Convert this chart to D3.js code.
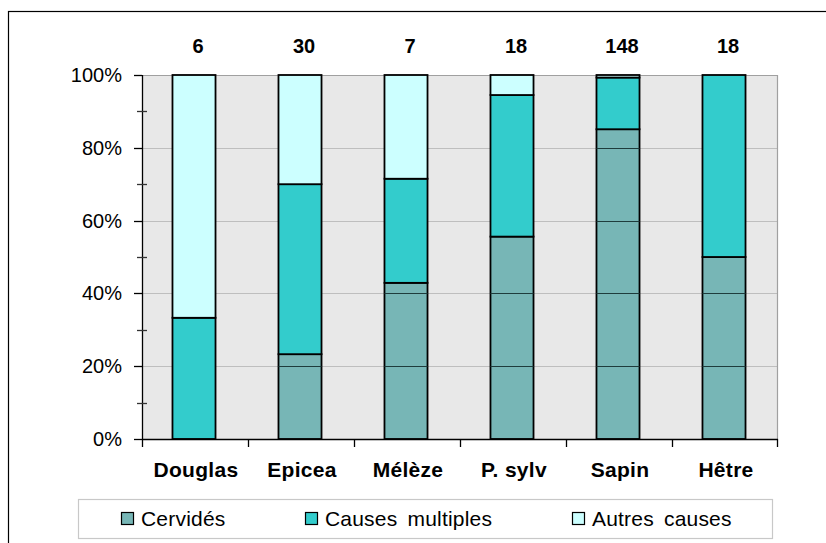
<!DOCTYPE html>
<html>
<head>
<meta charset="utf-8">
<script src="https://cdn.jsdelivr.net/npm/d3@7"></script>
<style>
  html, body { margin: 0; padding: 0; background: #fff; }
  svg { display: block; font-family: "Liberation Sans", Arial, sans-serif; }
</style>
</head>
<body>
<svg id="chart" width="826" height="543"></svg>
<script>
// Essences and number of damaged trees per essence
const essences = ["Douglas", "Epicea", "Mélèze", "P. sylv", "Sapin", "Hêtre"];
const effectifs = [6, 30, 7, 18, 148, 18];

// Share (%) of each cause per essence
const cervides        = [0, 23.3, 42.9, 55.6, 85.1, 50];
const causesMultiples = [33.3, 46.7, 28.6, 38.9, 14.2, 50];
const autresCauses    = [66.7, 30.0, 28.5, 5.5, 0.7, 0];

const causes = ["Cervidés", "Causes multiples", "Autres causes"];
const couleurs = ["#77B6B6", "#33CCCC", "#CCFFFF"];
const yTicks = [0, 20, 40, 60, 80, 100];
const yMinor = [10, 30, 50, 70, 90];

const rows = essences.map((e, i) => ({
  essence: e,
  "Cervidés": cervides[i],
  "Causes multiples": causesMultiples[i],
  "Autres causes": autresCauses[i]
}));

const svg = d3.select("#chart");
const m = { left: 142, right: 778, top: 75, bottom: 439 };

const x = d3.scaleBand().domain(essences).range([m.left, m.right]).paddingInner(0.594).paddingOuter(0.297);
const xBand = d3.scaleBand().domain(essences).range([m.left, m.right]);
const y = d3.scaleLinear().domain([0, 100]).range([m.bottom, m.top]);

// Outer frame
svg.append("rect").attr("x", 8.5).attr("y", 11.5).attr("width", 840).attr("height", 560)
  .attr("fill", "none").attr("stroke", "#000").attr("stroke-width", 1.2);

// Plot area background
svg.append("rect").attr("x", m.left).attr("y", m.top)
  .attr("width", m.right - m.left).attr("height", m.bottom - m.top)
  .attr("fill", "#E8E8E8");

// Horizontal gridlines
svg.append("g").selectAll("line").data(yTicks.filter(d => d > 0 && d < 100)).join("line")
  .attr("x1", m.left).attr("x2", m.right)
  .attr("y1", d => Math.round(y(d)) + 0.5).attr("y2", d => Math.round(y(d)) + 0.5)
  .attr("stroke", "#BEBEBE").attr("stroke-width", 1);

// Top and right border of plot area
svg.append("path")
  .attr("d", `M${m.left},${m.top + 0.5}H${m.right - 0.5}V${m.bottom}`)
  .attr("fill", "none").attr("stroke", "#A0A0A0").attr("stroke-width", 1.2);

// Stacked bars
const series = d3.stack().keys(causes)(rows);
const shift = -1;
const g = svg.append("g");
series.forEach((s, si) => {
  g.append("g").selectAll("rect").data(s.filter(d => d[1] - d[0] > 0)).join("rect")
    .attr("x", d => x(d.data.essence) + shift)
    .attr("width", x.bandwidth())
    .attr("y", d => y(d[1]))
    .attr("height", d => y(d[0]) - y(d[1]))
    .attr("fill", couleurs[si])
    .attr("stroke", "#000").attr("stroke-width", 1.8);
  // gridlines showing through the Cervidés segments
  if (si === 0) {
    s.filter(d => d[1] - d[0] > 0).forEach(d => {
      yTicks.filter(t => t > d[0] && t < d[1] && t > 0).forEach(t => {
        g.append("line")
          .attr("x1", x(d.data.essence) + shift).attr("x2", x(d.data.essence) + shift + x.bandwidth())
          .attr("y1", Math.round(y(t)) + 0.5).attr("y2", Math.round(y(t)) + 0.5)
          .attr("stroke", "#1E3C3C").attr("stroke-width", 1);
      });
    });
  }
});

// Y axis line and ticks
const ax = svg.append("g").attr("stroke", "#000");
ax.append("line").attr("x1", m.left + 0.5).attr("x2", m.left + 0.5)
  .attr("y1", m.top).attr("y2", m.bottom + 8).attr("stroke-width", 1.3);
ax.selectAll(".maj").data(yTicks).join("line").attr("class", "maj")
  .attr("x1", m.left - 8).attr("x2", m.left)
  .attr("y1", d => Math.round(y(d)) + 0.5).attr("y2", d => Math.round(y(d)) + 0.5)
  .attr("stroke-width", 1.3);
ax.selectAll(".min").data(yMinor).join("line").attr("class", "min")
  .attr("x1", m.left - 5).attr("x2", m.left + 5)
  .attr("y1", d => Math.round(y(d)) + 0.5).attr("y2", d => Math.round(y(d)) + 0.5)
  .attr("stroke", "#333").attr("stroke-width", 1.3);

// X axis line and ticks between categories
ax.append("line").attr("x1", m.left).attr("x2", m.right)
  .attr("y1", m.bottom + 0.5).attr("y2", m.bottom + 0.5).attr("stroke-width", 1.3);
ax.selectAll(".xt").data(essences.slice(1).concat(["__end"])).join("line").attr("class", "xt")
  .attr("x1", d => d === "__end" ? m.right - 0.5 : xBand(d) + 0.5)
  .attr("x2", d => d === "__end" ? m.right - 0.5 : xBand(d) + 0.5)
  .attr("y1", m.bottom).attr("y2", m.bottom + 8).attr("stroke-width", 1.3);

// Y tick labels
svg.append("g").selectAll("text").data(yTicks).join("text")
  .attr("x", 122).attr("y", d => y(d) + 7)
  .attr("text-anchor", "end").attr("font-size", 20).attr("fill", "#000")
  .text(d => d + "%");

// Category labels
svg.append("g").selectAll("text").data(essences).join("text")
  .attr("x", d => xBand(d) + xBand.bandwidth() / 2 + 1).attr("y", 477)
  .attr("text-anchor", "middle").attr("font-size", 21).attr("font-weight", "bold")
  .attr("letter-spacing", 0.3)
  .text(d => d);

// Counts above the bars
svg.append("g").selectAll("text").data(essences).join("text")
  .attr("x", d => xBand(d) + xBand.bandwidth() / 2 + 3).attr("y", 53)
  .attr("text-anchor", "middle").attr("font-size", 20).attr("font-weight", "bold")
  .text((d, i) => effectifs[i]);

// Legend
const leg = svg.append("g");
leg.append("rect").attr("x", 78.5).attr("y", 499.5).attr("width", 694).attr("height", 39)
  .attr("fill", "#fff").attr("stroke", "#C8C8C8").attr("stroke-width", 1.2);
const legX = [121, 305, 572];
causes.forEach((c, i) => {
  leg.append("rect").attr("x", legX[i] + 0.5).attr("y", 512.5).attr("width", 12).attr("height", 12)
    .attr("fill", couleurs[i]).attr("stroke", "#000").attr("stroke-width", 1.2);
  leg.append("text").attr("x", legX[i] + 20).attr("y", 525.5)
    .attr("font-size", 21).attr("letter-spacing", 0.2).attr("word-spacing", 4)
    .text(c);
});
</script>
</body>
</html>
